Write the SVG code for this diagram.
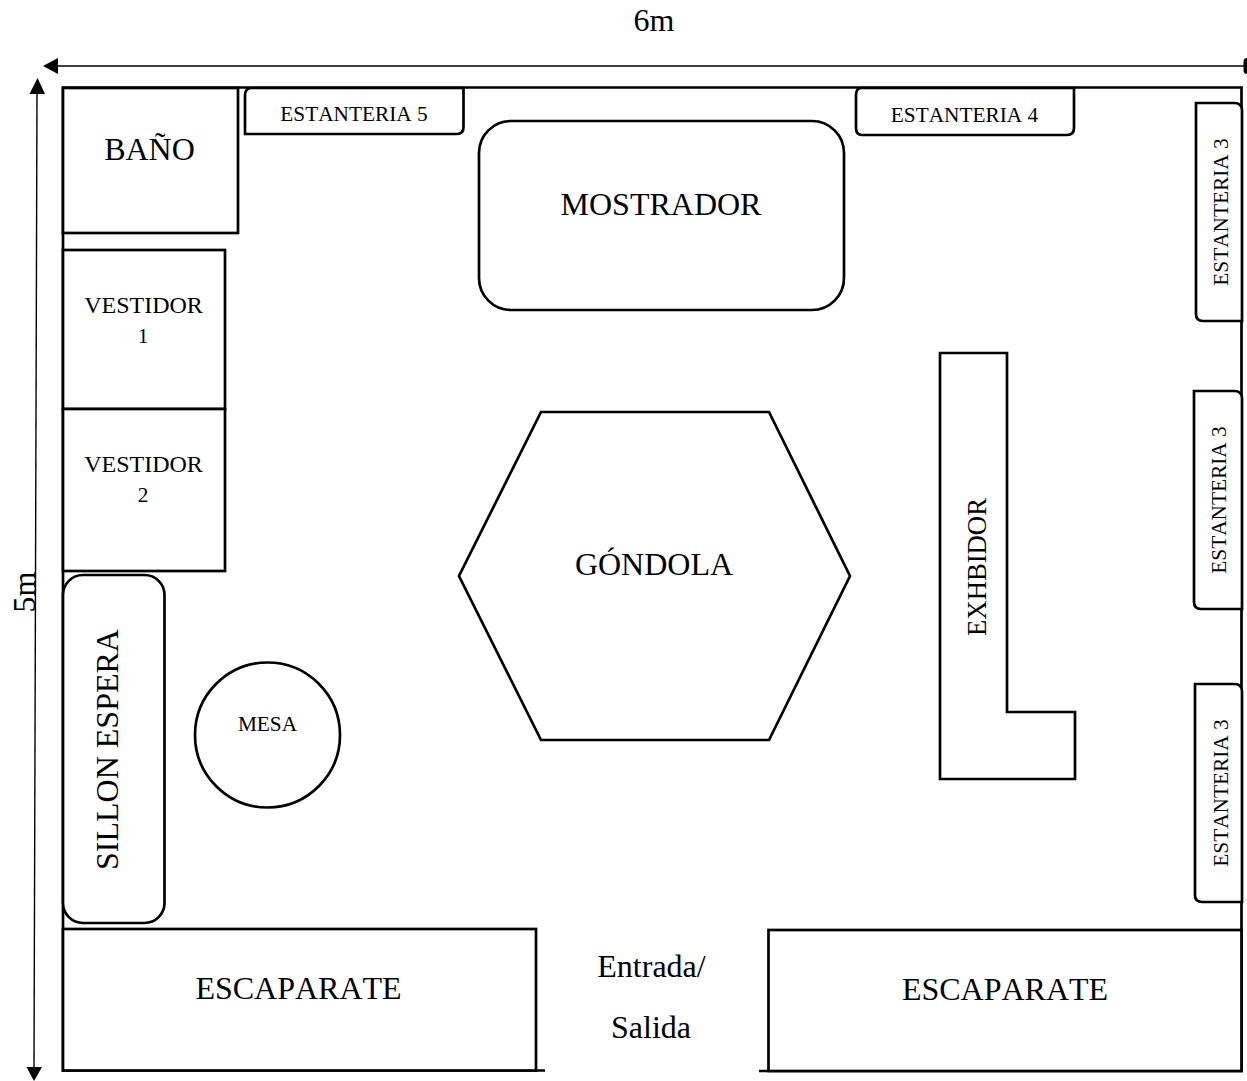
<svg xmlns="http://www.w3.org/2000/svg" width="1247" height="1081" viewBox="0 0 1247 1081">
<style>
.s{fill:#fff;stroke:#000;stroke-width:2.7}
.w{fill:none;stroke:#000;stroke-width:2.7}
.d{fill:none;stroke:#000;stroke-width:1.4}
text{font-family:"Liberation Serif","Times New Roman",serif;fill:#000;text-anchor:middle;font-kerning:none}
.l{font-size:32px}.m{font-size:24px}.t{font-size:21.3px}.x{font-size:26.700px}
</style>
<rect width="1247" height="1081" fill="#fff"/>
<g id="connectors">
<path class="d" d="M58 66H1245"/>
<path d="M58 58L43 66L58 74Z"/>
<path d="M1247 58V74Q1243.500 74 1243.500 70V62Q1243.500 58 1247 58Z"/>
<path class="d" d="M37 92L34 1068"/>
<path d="M29.500 94L37.500 78L45 94Z"/>
<path d="M26.500 1067H42L34 1081Z"/>
</g>
<g id="room"><path class="w" d="M545 1070.500H63V87.500H1241.500V1071H759"/></g>
<g id="bano"><rect class="s" x="63" y="88" width="175" height="145"/><text class="l" x="149.500" y="160">BAÑO</text></g>
<g id="estanteria5"><path class="s" d="M245 134H457Q463.500 134 463.500 127V88H252Q245 88 245 95Z"/><text class="t" x="354" y="120.500">ESTANTERIA 5</text></g>
<g id="estanteria4"><path class="s" d="M862 135H1067Q1074 135 1074 128V88H862Q856 88 856 95V128Q856 135 862 135Z"/><text class="t" x="964.500" y="121.500">ESTANTERIA 4</text></g>
<g id="mostrador"><rect class="s" x="479" y="121" width="365" height="189" rx="32"/><text class="l" x="661" y="215">MOSTRADOR</text></g>
<g id="estanteria3a"><path class="s" d="M1242 321H1203Q1196 321 1196 314V103H1234Q1242 103 1242 110Z"/><text class="t" transform="translate(1228 212) rotate(-90)">ESTANTERIA 3</text></g>
<g id="estanteria3b"><path class="s" d="M1242 609H1201Q1194 609 1194 602V391H1234Q1242 391 1242 398Z"/><text class="t" transform="translate(1226 500) rotate(-90)">ESTANTERIA 3</text></g>
<g id="estanteria3c"><path class="s" d="M1242 902H1202Q1195 902 1195 895V684H1234Q1242 684 1242 691Z"/><text class="t" transform="translate(1228 793) rotate(-90)">ESTANTERIA 3</text></g>
<g id="vestidor1"><rect class="s" x="63" y="250" width="162" height="159"/><text class="m" x="143.500" y="313">VESTIDOR</text><text class="t" x="143" y="343">1</text></g>
<g id="vestidor2"><rect class="s" x="63" y="409" width="162" height="162"/><text class="m" x="143.500" y="472">VESTIDOR</text><text class="t" x="143" y="502">2</text></g>
<g id="sillon"><rect class="s" x="63" y="575" width="101.500" height="348" rx="20"/><text class="l" transform="translate(118 749.500) rotate(-90)">SILLON ESPERA</text></g>
<g id="mesa"><circle class="s" cx="267.500" cy="735" r="72.500"/><text class="t" x="267.500" y="731">MESA</text></g>
<g id="gondola"><path class="s" d="M541 412H769L850 576L769 740H541L459 576Z"/><text class="l" x="654" y="575">GÓNDOLA</text></g>
<g id="exhibidor"><path class="s" d="M940 353H1007V712H1075V779H940Z"/><text class="x" transform="translate(986 567) rotate(-90)">EXHBIDOR</text></g>
<g id="escaparate1"><rect class="s" x="63" y="929" width="473" height="141.500"/><text class="l" x="298.500" y="999">ESCAPARATE</text></g>
<g id="escaparate2"><rect class="s" x="768.500" y="930" width="473" height="141"/><text class="l" x="1005" y="1000">ESCAPARATE</text></g>
<g id="labels">
<text class="l" x="654" y="31">6m</text>
<text class="l" transform="translate(35 592) rotate(-90)">5m</text>
<text class="l" x="651.500" y="977">Entrada/</text>
<text class="l" x="651" y="1038">Salida</text>
</g>
</svg>
